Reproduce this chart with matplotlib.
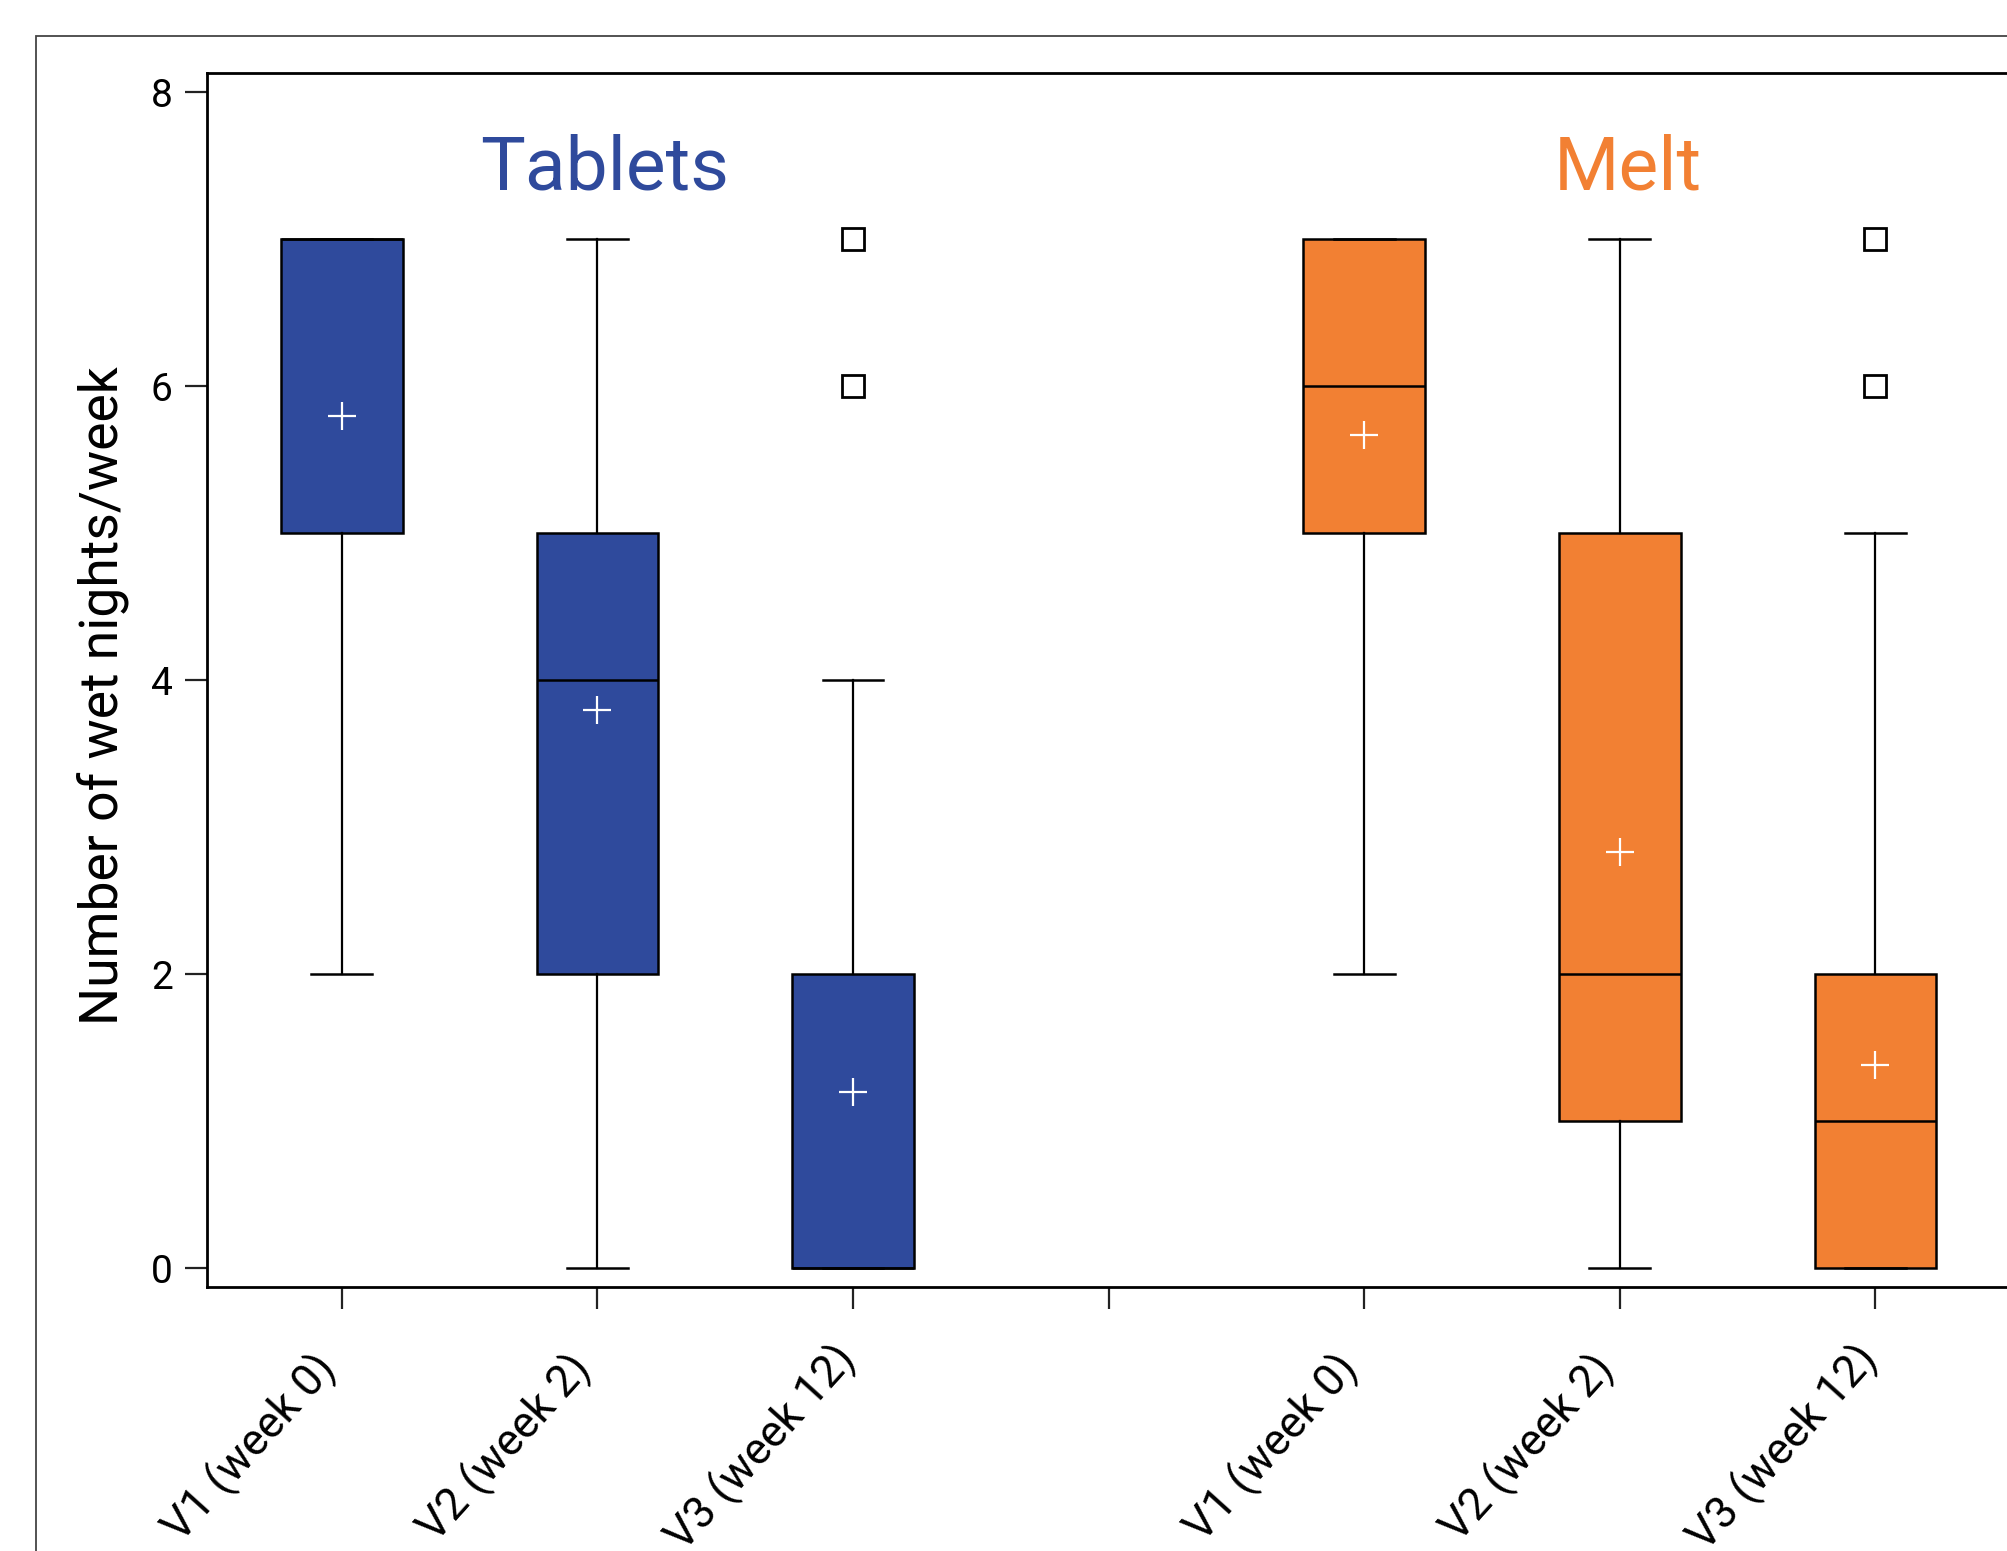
import numpy as np
import matplotlib
matplotlib.use("Agg")
import matplotlib.pyplot as plt
from matplotlib.patches import Rectangle
from matplotlib.transforms import ScaledTranslation

plt.rcParams['font.family'] = ['Roboto', 'DejaVu Sans']

# %% data
labels = ['V1 (week 0)', 'V2 (week 2)', 'V3 (week 12)',
          'V1 (week 0)', 'V2 (week 2)', 'V3 (week 12)']
positions = [1, 2, 3, 5, 6, 7]
whislo = [2, 0, 0, 2, 0, 0]
q1 = [5, 2, 0, 5, 1, 0]
med = [7, 4, 0, 6, 2, 1]
q3 = [7, 5, 2, 7, 5, 2]
whishi = [7, 7, 4, 7, 7, 5]
means = [5.8, 3.8, 1.2, 5.67, 2.83, 1.38]
fliers = [[], [], [6, 7], [], [], [6, 7]]
groups = ['Tablets', 'Melt']
group_centers = [2, 6]

blue = '#2F4A9C'
orange = '#F28033'
colors = [blue, blue, blue, orange, orange, orange]

# %% figure
fig = plt.figure(figsize=(20.08, 15.51), dpi=100)
ax = fig.add_axes([0.1033, 0.1701, 0.907, 0.7828])

stats = []
for i in range(len(labels)):
    stats.append(dict(whislo=whislo[i], q1=q1[i], med=med[i], q3=q3[i],
                      whishi=whishi[i], mean=means[i], fliers=fliers[i]))

bp = ax.bxp(stats, positions=positions, widths=0.476, patch_artist=True,
            showmeans=True, showfliers=True,
            boxprops=dict(linewidth=1.8, edgecolor='black'),
            medianprops=dict(color='black', linewidth=1.8),
            whiskerprops=dict(color='black', linewidth=1.6),
            capprops=dict(color='black', linewidth=1.8),
            meanprops=dict(marker='+', markeredgecolor='white', markersize=20,
                           markeredgewidth=1.6),
            flierprops=dict(marker='s', markerfacecolor='none',
                            markeredgecolor='black', markersize=16,
                            markeredgewidth=2.0))
for patch, c in zip(bp['boxes'], colors):
    patch.set_facecolor(c)

# group titles
for g, xc, c in zip(groups, group_centers, [blue, orange]):
    ax.text(xc + 0.03, 7.48, g, color=c, fontsize=54, ha='center', va='center')

ax.set_xlim(0.474, 7.6)
ax.set_ylim(-0.13, 8.13)
ax.set_yticks([0, 2, 4, 6, 8])
ax.set_xticks([1, 2, 3, 4, 5, 6, 7])
ax.set_xticklabels(labels[:3] + [''] + labels[3:], rotation=48, ha='center',
                   va='center', rotation_mode='anchor', fontsize=32)
ax.tick_params(axis='both', direction='out', length=16, width=1.6, color='#222222')
ax.tick_params(axis='y', labelsize=28, pad=9)
ax.tick_params(axis='x', pad=0)
# rotated labels are centred down-left of their tick
off = ScaledTranslation(-66 / 72, -100 / 72, fig.dpi_scale_trans)
for lab in ax.get_xticklabels():
    lab.set_transform(lab.get_transform() + off)

for s in ax.spines.values():
    s.set_linewidth(2.0)

ax.set_ylabel('Number of wet nights/week', fontsize=38.5)
ax.yaxis.set_label_coords(-0.043, 0.487)

# outer frame of the panel
fig.add_artist(Rectangle((0.0179, -0.2), 1.2, 0.977 + 0.2, transform=fig.transFigure,
                         fill=False, linewidth=1.3, edgecolor='#444444'))

fig.savefig('out.png', dpi=100)
